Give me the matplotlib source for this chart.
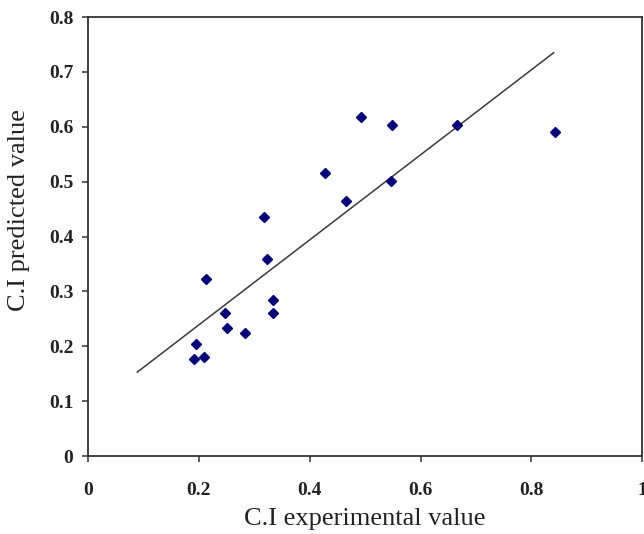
import matplotlib
matplotlib.use("Agg")
import matplotlib.pyplot as plt
import numpy as np

# Experimental vs predicted C.I values
ci_experimental = [0.318, 0.323, 0.213, 0.334, 0.334, 0.247, 0.251, 0.283, 0.194,
                   0.191, 0.209, 0.493, 0.549, 0.666, 0.842, 0.427, 0.466, 0.546]
ci_predicted = [0.436, 0.360, 0.322, 0.284, 0.260, 0.260, 0.234, 0.225, 0.205,
                0.176, 0.181, 0.617, 0.603, 0.603, 0.591, 0.515, 0.464, 0.501]

# Fitted trend line: slope, intercept and x extent
fit_slope = 0.775
fit_intercept = 0.084
fit_x_range = [0.089, 0.840]

x_ticks = [0, 0.2, 0.4, 0.6, 0.8, 1]
x_tick_labels = ["0", "0.2", "0.4", "0.6", "0.8", "1"]
y_ticks = [0, 0.1, 0.2, 0.3, 0.4, 0.5, 0.6, 0.7, 0.8]
y_tick_labels = ["0", "0.1", "0.2", "0.3", "0.4", "0.5", "0.6", "0.7", "0.8"]

plt.rcParams["font.family"] = ["Liberation Serif", "DejaVu Serif"]

fig = plt.figure(figsize=(6.44, 5.34), dpi=100)
ax = fig.add_axes([0.1366, 0.146, 0.8608, 0.822])

fx = np.array(fit_x_range)
ax.plot(fx, fit_slope * fx + fit_intercept, color="#3a3a3a", lw=1.1, zorder=2)
ax.plot(ci_experimental, ci_predicted, linestyle="none", marker="D",
        ms=5, color="#00007a", mec="#00007a", zorder=3)

ax.set_xlim(0, 1)
ax.set_ylim(0, 0.8)
ax.set_xticks(x_ticks)
ax.set_xticklabels(x_tick_labels)
ax.set_yticks(y_ticks)
ax.set_yticklabels(y_tick_labels)

for side in ["left", "right", "top", "bottom"]:
    ax.spines[side].set_color("#333333")
    ax.spines[side].set_linewidth(1.3)

ax.tick_params(axis="both", direction="out", length=4.5, width=1.1,
               color="#333333", labelsize=14, labelcolor="#222222")
ax.tick_params(axis="y", pad=6)
ax.tick_params(axis="x", pad=14)
for lbl in ax.get_xticklabels() + ax.get_yticklabels():
    lbl.set_fontweight("bold")

ax.set_xlabel("C.I experimental value", fontsize=19, color="#222222", labelpad=7)
ax.set_ylabel("C.I predicted value", fontsize=19, color="#222222")
ax.yaxis.set_label_coords(-0.105, 0.56)

fig.savefig("out.png", dpi=100, facecolor="white")
